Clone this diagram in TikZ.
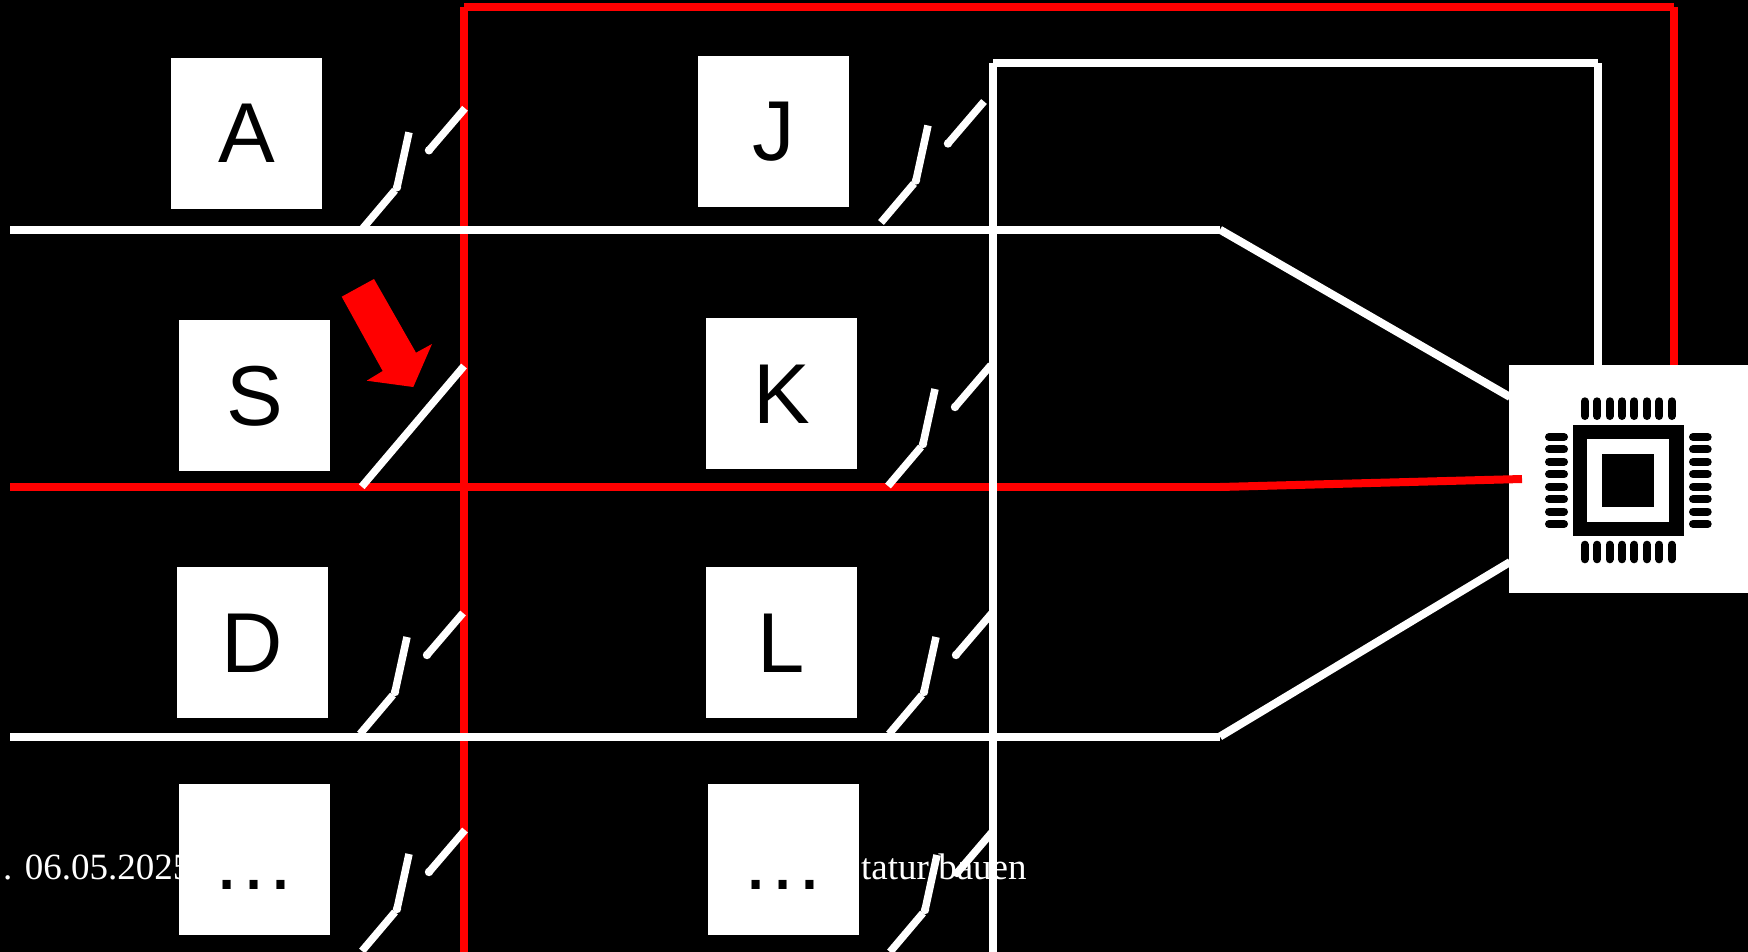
\documentclass[tikz,border=0pt]{standalone}
\usepackage{fontspec}
\setmainfont{Liberation Serif}
\newfontfamily\keyfont{Liberation Sans}
\tikzset{
  wire/.style={line width=8pt,line cap=butt},
  redwire/.style={wire,draw=red},
  whitewire/.style={wire,draw=white},
  lever/.style={line width=7.5pt,draw=white,line cap=butt},
  leverround/.style={line width=7.5pt,draw=white,line cap=round},
  keybox/.style={rectangle,fill=white,text=black,inner sep=0pt,outer sep=0pt,minimum width=151.4pt,
    text height=105pt,text depth=46pt,anchor=north west,font=\keyfont\fontsize{85}{85}\selectfont},
  caption/.style={text=white,inner sep=0pt,anchor=base west,font=\fontsize{37}{37}\selectfont},
  chipbox/.style={rectangle,fill=white,inner sep=0pt,outer sep=0pt,anchor=north west,minimum width=240pt,minimum height=228pt},
  pin/.style={line width=8pt,draw=black,line cap=round}
}
\newcommand{\keyswitch}[3]{%
  \coordinate (#1base) at (#2,#3);
  \coordinate (#1knee) at (#2+33,#3-39);
  \coordinate (#1piv) at (#2+35,#3-42);
  \coordinate (#1top) at (#2+47,#3-97);
  \coordinate (#1cs) at (#2+67,#3-79);
  \coordinate (#1ce) at (#2+103,#3-121);
  \draw[lever] (#1base) -- (#1knee);
  \draw[lever] (#1piv) -- (#1top);
  \fill[white] (#1piv) circle (4.2pt);
  \draw[lever] (#1ce) -- (#1cs);
  \fill[white] (#1cs) circle (4.2pt);
}
\begin{document}
\begin{tikzpicture}[x=1pt,y=-1pt]
\useasboundingbox (0,0) rectangle (1748,952);
\clip (0,0) rectangle (1748,952);
\fill[black] (0,0) rectangle (1748,952);

% caption text behind everything
\node[caption] (capl) at (3,879) {. 06.05.2025};
\node[caption] (capr) at (861,879) {tatur bauen};

% named junctions
\coordinate (rtl) at (464,7.3);
\coordinate (rtlh) at (464,7.3);
\coordinate (rtr) at (1673.7,7.3);
\coordinate (rbot) at (464,960);
\coordinate (rin) at (1673.7,366);
\coordinate (wtl) at (993.3,63.5);
\coordinate (wtr) at (1598,63.5);
\coordinate (wbot) at (993.3,960);
\coordinate (win) at (1598,366);
\coordinate (r1s) at (10,229.7);
\coordinate (r1e) at (1220,229.7);
\coordinate (r1c) at (1510,397);
\coordinate (r2s) at (10,487);
\coordinate (r2e) at (1220,487);
\coordinate (r2c) at (1522,479);
\coordinate (r3s) at (10,736.5);
\coordinate (r3e) at (1220,736.5);
\coordinate (r3c) at (1510,562);

% red wires
\draw[redwire] (rtl) -- (rtr);
\draw[redwire] (rtr) -- (rin);
\draw[redwire] (rtl) -- (rbot);
\draw[redwire] (r2s) -- (r2e);
% white wires
\draw[whitewire] (wtl) -- (wtr);
\draw[whitewire] (wtr) -- (win);
\draw[whitewire] (wtl) -- (wbot);
\draw[whitewire] (r1s) -- (r1e) ;
\draw[whitewire] (r1e) -- (r1c);
\draw[whitewire] (r3s) -- (r3e);
\draw[whitewire] (r3e) -- (r3c);

% key boxes
\node[keybox] (keyA) at (171,58) {A};
\node[keybox] (keyS) at (178.7,320) {S};
\node[keybox] (keyD) at (176.5,567) {D};
\node[keybox] (keyDots) at (178.7,784) {…};
\node[keybox] (keyJ) at (698,56) {J};
\node[keybox] (keyK) at (705.7,318) {K};
\node[keybox] (keyL) at (705.7,567) {L};
\node[keybox] (keyDotsb) at (707.7,784) {…};

% switches
\keyswitch{a}{362}{229.3}
\keyswitch{j}{881}{222.5}
\keyswitch{k}{888}{486}
\keyswitch{d}{360}{734}
\keyswitch{l}{889}{734}
\keyswitch{e}{362}{951}
\keyswitch{f}{890}{952}
% closed switch S
\coordinate (sbase) at (361.7,486.7);
\coordinate (send) at (464,366);
\draw[lever] (sbase) -- (send);

% red arrow
\fill[red] (341.7,296.7) -- (374,279) -- (416,352.7) -- (432,344) -- (413.3,387) -- (366.7,380.7) -- (382.7,371) -- cycle;

% chip
\node[chipbox] (chip) at (1509,365) {};
\fill[black] (1572.7,425) rectangle (1683.7,536);
\fill[white] (1587,439.3) rectangle (1669.3,521.7);
\fill[black] (1602,454.3) rectangle (1654.3,506.7);
\foreach \i in {0,...,7}{
  \pgfmathsetmacro{\px}{1584.7+12.43*\i}
  \pgfmathsetmacro{\py}{437+12.43*\i}
  \draw[pin] (\px,401.3) -- (\px,416);
  \draw[pin] (\px,544.7) -- (\px,559.3);
  \draw[pin] (1549,\py) -- (1564,\py);
  \draw[pin] (1693,\py) -- (1707.7,\py);
}
% red signal over chip box
\draw[redwire] (r2e) -- (r2c);
\end{tikzpicture}
\end{document}
